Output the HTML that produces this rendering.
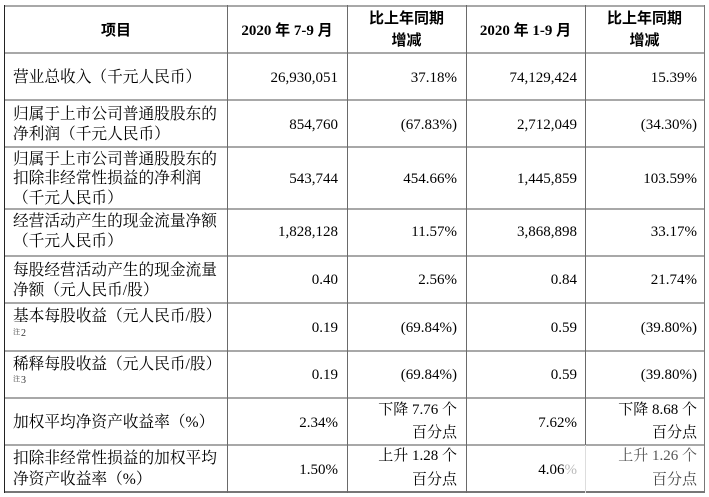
<!DOCTYPE html>
<html><head><meta charset="utf-8">
<style>
html,body{margin:0;padding:0;background:#fff;}
body{width:709px;height:497px;position:relative;overflow:hidden;}
.h{position:absolute;height:2px;background:#a8a8a8;left:4px;width:701px;}
.v{position:absolute;width:1px;background:#6a6a6a;top:5px;height:488px;}
.t{position:absolute;white-space:nowrap;font-family:"Liberation Serif","Noto Serif CJK SC",serif;font-size:15.7px;line-height:20px;height:20px;color:#000;}
.n{position:absolute;white-space:nowrap;font-family:"Liberation Serif","Noto Serif CJK SC",serif;font-size:15px;line-height:20px;height:20px;color:#000;text-align:right;}
.hd{position:absolute;white-space:nowrap;font-family:"Liberation Serif","Noto Sans CJK SC",sans-serif;font-weight:bold;font-size:15px;line-height:20px;height:20px;color:#000;text-align:center;}
.note{position:absolute;white-space:nowrap;font-family:"Liberation Serif","Noto Serif CJK SC",serif;color:#333;}
</style></head><body>
<div class="h" style="top:5px;"></div>
<div class="h" style="top:52px;"></div>
<div class="h" style="top:99px;"></div>
<div class="h" style="top:146px;"></div>
<div class="h" style="top:208px;"></div>
<div class="h" style="top:255px;"></div>
<div class="h" style="top:302px;"></div>
<div class="h" style="top:350px;"></div>
<div class="h" style="top:397px;"></div>
<div class="h" style="top:444px;"></div>
<div class="h" style="top:491px;background:#777;"></div>
<div class="v" style="left:4px;background:#222;"></div>
<div class="v" style="left:227px;"></div>
<div class="v" style="left:347px;"></div>
<div class="v" style="left:466px;"></div>
<div class="v" style="left:585px;height:440px;"></div>
<div class="v" style="left:585px;top:445px;height:48px;background:#ddd;"></div>
<div class="v" style="left:704px;background:#777;"></div>

<div class="hd" style="left:5px;width:222px;top:21px;">项目</div>
<div class="hd" style="left:227px;width:120px;top:21px;">2020 年 7-9 月</div>
<div class="hd" style="left:347px;width:119px;top:9px;">比上年同期</div>
<div class="hd" style="left:347px;width:119px;top:31px;">增减</div>
<div class="hd" style="left:466px;width:119px;top:21px;">2020 年 1-9 月</div>
<div class="hd" style="left:585px;width:119px;top:9px;">比上年同期</div>
<div class="hd" style="left:585px;width:119px;top:31px;">增减</div>

<div class="t" style="left:13px;top:68px;">营业总收入（千元人民币）</div>
<div class="t" style="left:13px;top:105px;">归属于上市公司普通股股东的</div>
<div class="t" style="left:13px;top:125px;">净利润（千元人民币）</div>
<div class="t" style="left:13px;top:150px;">归属于上市公司普通股股东的</div>
<div class="t" style="left:13px;top:169px;">扣除非经常性损益的净利润</div>
<div class="t" style="left:13px;top:189px;">（千元人民币）</div>
<div class="t" style="left:13px;top:212px;">经营活动产生的现金流量净额</div>
<div class="t" style="left:13px;top:232px;">（千元人民币）</div>
<div class="t" style="left:13px;top:261px;">每股经营活动产生的现金流量</div>
<div class="t" style="left:13px;top:281px;">净额（元人民币/股）</div>
<div class="t" style="left:13px;top:307px;">基本每股收益（元人民币/股）</div>
<div class="note" style="left:13px;top:328px;font-size:7px;line-height:8px;">注</div>
<div class="note" style="left:21px;top:328px;font-size:10px;line-height:12px;">2</div>
<div class="t" style="left:13px;top:355px;">稀释每股收益（元人民币/股）</div>
<div class="note" style="left:13px;top:375px;font-size:7px;line-height:8px;">注</div>
<div class="note" style="left:21px;top:375px;font-size:10px;line-height:12px;">3</div>
<div class="t" style="left:13px;top:413px;">加权平均净资产收益率（%）</div>
<div class="t" style="left:13px;top:449px;">扣除非经常性损益的加权平均</div>
<div class="t" style="left:13px;top:470px;">净资产收益率（%）</div>

<div class="n" style="left:228px;width:110px;top:68px;">26,930,051</div>
<div class="n" style="left:228px;width:110px;top:115px;">854,760</div>
<div class="n" style="left:228px;width:110px;top:169px;">543,744</div>
<div class="n" style="left:228px;width:110px;top:222px;">1,828,128</div>
<div class="n" style="left:228px;width:110px;top:270px;">0.40</div>
<div class="n" style="left:228px;width:110px;top:318px;">0.19</div>
<div class="n" style="left:228px;width:110px;top:365px;">0.19</div>
<div class="n" style="left:228px;width:110px;top:413px;">2.34%</div>
<div class="n" style="left:228px;width:110px;top:460px;">1.50%</div>

<div class="n" style="left:348px;width:109px;top:68px;">37.18%</div>
<div class="n" style="left:348px;width:109px;top:115px;">(67.83%)</div>
<div class="n" style="left:348px;width:109px;top:169px;">454.66%</div>
<div class="n" style="left:348px;width:109px;top:222px;">11.57%</div>
<div class="n" style="left:348px;width:109px;top:270px;">2.56%</div>
<div class="n" style="left:348px;width:109px;top:318px;">(69.84%)</div>
<div class="n" style="left:348px;width:109px;top:365px;">(69.84%)</div>
<div class="n" style="left:348px;width:109px;top:400px;">下降 7.76 个</div>
<div class="n" style="left:348px;width:109px;top:423px;">百分点</div>
<div class="n" style="left:348px;width:109px;top:446px;">上升 1.28 个</div>
<div class="n" style="left:348px;width:109px;top:470px;">百分点</div>

<div class="n" style="left:467px;width:110px;top:68px;">74,129,424</div>
<div class="n" style="left:467px;width:110px;top:115px;">2,712,049</div>
<div class="n" style="left:467px;width:110px;top:169px;">1,445,859</div>
<div class="n" style="left:467px;width:110px;top:222px;">3,868,898</div>
<div class="n" style="left:467px;width:110px;top:270px;">0.84</div>
<div class="n" style="left:467px;width:110px;top:318px;">0.59</div>
<div class="n" style="left:467px;width:110px;top:365px;">0.59</div>
<div class="n" style="left:467px;width:110px;top:413px;">7.62%</div>
<div class="n" style="left:467px;width:110px;top:460px;">4.06<span style="color:#bbb;">%</span></div>

<div class="n" style="left:586px;width:111px;top:68px;">15.39%</div>
<div class="n" style="left:586px;width:111px;top:115px;">(34.30%)</div>
<div class="n" style="left:586px;width:111px;top:169px;">103.59%</div>
<div class="n" style="left:586px;width:111px;top:222px;">33.17%</div>
<div class="n" style="left:586px;width:111px;top:270px;">21.74%</div>
<div class="n" style="left:586px;width:111px;top:318px;">(39.80%)</div>
<div class="n" style="left:586px;width:111px;top:365px;">(39.80%)</div>
<div class="n" style="left:586px;width:111px;top:400px;">下降 8.68 个</div>
<div class="n" style="left:586px;width:111px;top:423px;">百分点</div>
<div class="n" style="left:586px;width:111px;top:446px;color:#555;">上升 1.26 个</div>
<div class="n" style="left:586px;width:111px;top:470px;color:#444;">百分点</div>
</body></html>
